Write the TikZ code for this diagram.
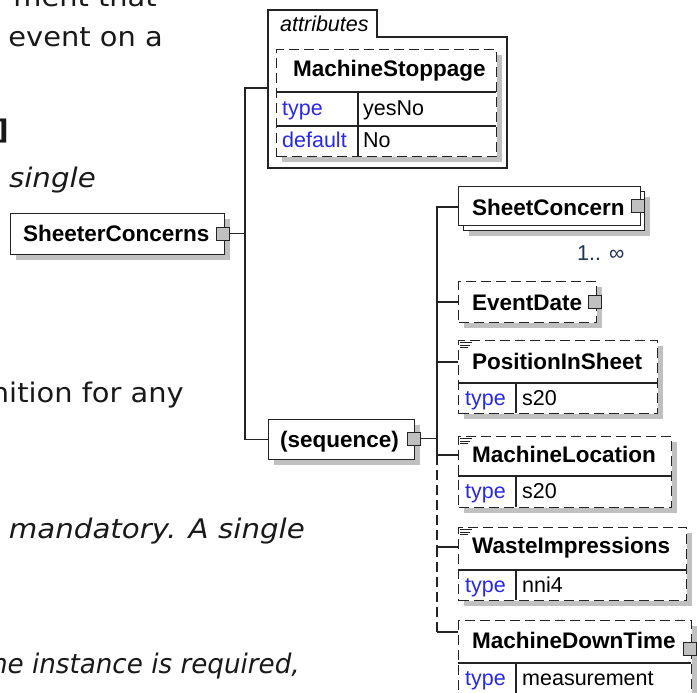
\documentclass[tikz,border=0pt]{standalone}
\usepackage{fontspec}
\setmainfont{Liberation Sans}
\newfontfamily\docfont[FakeStretch=1.07]{DejaVu Sans}
\newfontfamily\docit[FakeStretch=1.085]{DejaVu Sans}
\newfontfamily\docitnarrow[FakeStretch=0.97]{DejaVu Sans}
\usetikzlibrary{shadows}
\definecolor{attrblue}{RGB}{40,40,235}
\definecolor{cardblue}{RGB}{30,50,90}
\definecolor{shadowgray}{RGB}{192,192,192}
\definecolor{btngray}{RGB}{192,192,192}
\definecolor{linegray}{RGB}{35,35,35}
\begin{document}
\begin{tikzpicture}[x=1pt,y=-1pt,
  doc/.style={font={\docfont\fontsize{27}{32}\selectfont}, inner sep=0pt, text=black!90, anchor=base east},
  docitalic/.style={doc, font={\docit\fontsize{27}{32}\selectfont\itshape}},
  elbox/.style={draw=linegray, line width=1.4pt, fill=white, inner sep=0pt, anchor=north west,
     general shadow={fill=shadowgray, shadow xshift=5pt, shadow yshift=-5pt}},
  plainbox/.style={draw=linegray, line width=1.4pt, fill=white, inner sep=0pt, anchor=north west},
  optbox/.style={elbox, dash pattern=on 10pt off 5pt},
  btn/.style={draw=linegray, fill=btngray, line width=1pt, minimum size=13pt, inner sep=0pt, anchor=center},
  elname/.style={font={\fontsize{22.5}{26}\selectfont\bfseries}, anchor=base west, inner sep=0pt},
  lbl/.style={font={\fontsize{21.5}{26}\selectfont}, anchor=base west, inner sep=0pt},
  attlbl/.style={lbl, text=attrblue},
  conn/.style={draw=linegray, line width=1.3pt},
  sepline/.style={draw=linegray, line width=1.2pt},
  docicon/.style={draw=linegray, line width=0.8pt}
]
\useasboundingbox (0,0) rectangle (697,693);
\clip (0,0) rectangle (697,693);

% background document text
\node[doc] (d1) at (157,7) {ment that};
\node[doc] (d2) at (163,47) {event on a};
\node[doc, font={\docfont\fontsize{27}{32}\selectfont\bfseries}] (d3) at (9,139.5) {]};
\node[docitalic] (d4) at (96,187) {single};
\node[doc] (d5) at (184,402) {nition for any};
\node[docitalic] (d6) at (305,538) {mandatory. A single};
\node[doc, font={\docitnarrow\fontsize{27}{32}\selectfont\itshape}] (d7) at (300,673) {ne instance is required,};

% SheeterConcerns
\node[elbox, minimum width=214pt, minimum height=41pt] (sc) at (10,213) {};
\node[elname] (sct) at (23,241.5) {SheeterConcerns};
\node[btn] (scb) at (223,233.5) {};

% attributes frame
\draw[draw=linegray, line width=1.2pt] (268,10) -- (377,10) -- (377,37) -- (507,37) -- (507,168) -- (268,168) -- cycle;
\node[font={\fontsize{21.5}{26}\selectfont\itshape}, anchor=base west, inner sep=0pt] (attrt) at (280,32) {attributes};
\coordinate (attrL) at (268,88);
\node[optbox, minimum width=220pt, minimum height=107pt] (ms) at (276,49) {};
\draw[sepline] (276,92) -- (496,92);
\draw[sepline] (276,126) -- (496,126);
\draw[sepline] (358,92) -- (358,156);
\node[elname] (mst) at (293,77) {MachineStoppage};
\node[attlbl] (ms1) at (282,116) {type};
\node[lbl] (ms2) at (363,116) {yesNo};
\node[attlbl] (ms3) at (282,147) {default};
\node[lbl] (ms4) at (363,147) {No};

% sequence
\node[elbox, minimum width=146pt, minimum height=40pt] (seq) at (268,419) {};
\node[elname] (seqt) at (280,447) {(sequence)};
\node[btn] (seqb) at (414,438.5) {};

% SheetConcern (multiple)
\node[elbox, minimum width=181pt, minimum height=39pt] (scn2) at (463,191) {};
\node[plainbox, minimum width=182pt, minimum height=39pt] (scn) at (458,186) {};
\node[elname] (scnt) at (472,215) {SheetConcern};
\node[btn] (scnb) at (638,206) {};
\node[lbl, text=cardblue] (card) at (577,260) {1.. ∞};

% EventDate
\node[optbox, minimum width=138pt, minimum height=41pt] (ed) at (458,281) {};
\node[elname] (edt) at (472,310) {EventDate};
\node[btn] (edb) at (595,301.5) {};

% PositionInSheet
\node[optbox, minimum width=199pt, minimum height=73pt] (pis) at (458,340) {};
\draw[sepline] (458,383) -- (657,383);
\draw[sepline] (516,383) -- (516,413);
\draw[docicon] (460,342.5) -- (472,342.5) (460,345) -- (470,345) (460,347.5) -- (468,347.5);
\node[elname] (pist) at (472,369) {PositionInSheet};
\node[attlbl] (pis1) at (465,405) {type};
\node[lbl] (pis2) at (522,405) {s20};

% MachineLocation
\node[optbox, minimum width=213pt, minimum height=71pt] (ml) at (458,436) {};
\draw[sepline] (458,476) -- (671,476);
\draw[sepline] (516,476) -- (516,507);
\draw[docicon] (460,438.5) -- (472,438.5) (460,441) -- (470,441) (460,443.5) -- (468,443.5);
\node[elname] (mlt) at (472,462) {MachineLocation};
\node[attlbl] (ml1) at (465,498) {type};
\node[lbl] (ml2) at (522,498) {s20};

% WasteImpressions
\node[optbox, minimum width=228pt, minimum height=73pt] (wi) at (458,527) {};
\draw[sepline] (458,570) -- (686,570);
\draw[sepline] (516,570) -- (516,600);
\draw[docicon] (460,529.5) -- (472,529.5) (460,532) -- (470,532) (460,534.5) -- (468,534.5);
\node[elname] (wit) at (472,553) {WasteImpressions};
\node[attlbl] (wi1) at (465,592) {type};
\node[lbl] (wi2) at (522,592) {nni4};

% MachineDownTime
\node[optbox, minimum width=233pt, minimum height=90pt] (md) at (458,620) {};
\draw[sepline] (458,663) -- (691,663);
\draw[sepline] (516,663) -- (516,710);
\node[elname] (mdt) at (472,648) {MachineDownTime};
\node[btn] (mdb) at (690,649) {};
\node[attlbl] (md1) at (465,685) {type};
\node[lbl] (md2) at (522,685) {measurement};

% connectors
\coordinate (j1) at (245,233.5);
\draw[conn] (scb.east) -- (j1);
\draw[conn] (j1) |- (attrL);
\draw[conn] (j1) |- (seq.west);
\coordinate (j2) at (437,438.5);
\draw[conn] (seqb.east) -- (j2);
\coordinate (scnL) at (458,207);
\coordinate (edL) at (458,302);
\coordinate (pisL) at (458,362);
\coordinate (mlL) at (458,455);
\coordinate (wiL) at (458,547);
\coordinate (mdL) at (458,632);
\coordinate (mlJ) at (437,455);
\coordinate (wiJ) at (437,547);
\coordinate (mdJ) at (437,632);
\draw[conn] (j2) |- (scnL);
\draw[conn] (j2) |- (edL);
\draw[conn] (j2) |- (pisL);
\draw[conn] (j2) |- (mlL);
\draw[conn, dash pattern=on 10pt off 5pt] (mlJ) -- (wiJ);
\draw[conn] (wiJ) -- (wiL);
\draw[conn, dash pattern=on 10pt off 5pt] (wiJ) -- (mdJ);
\draw[conn] (mdJ) -- (mdL);
\end{tikzpicture}
\end{document}
